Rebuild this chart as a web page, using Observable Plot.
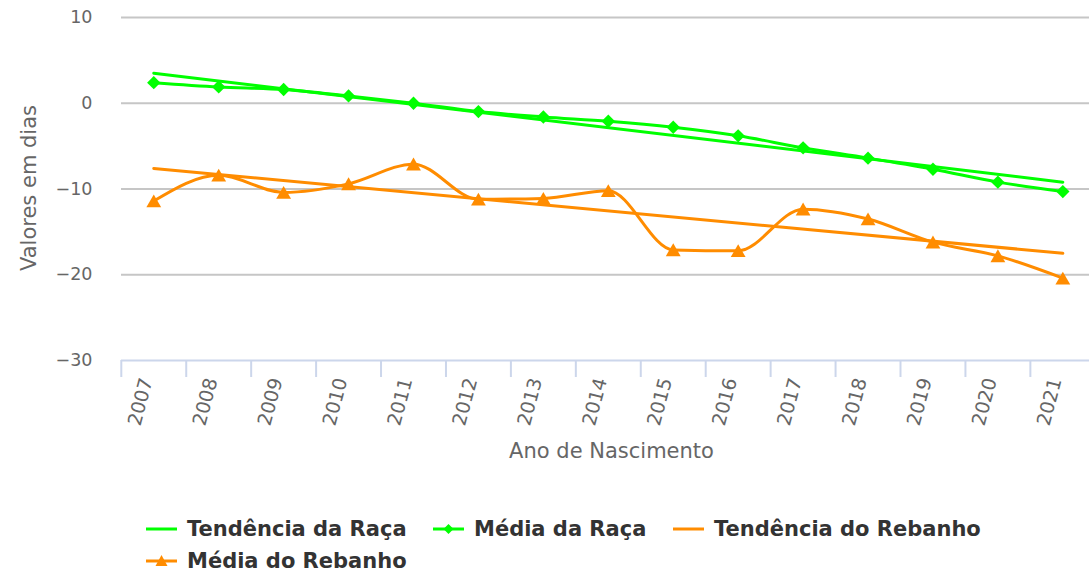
<!DOCTYPE html>
<html>
<head>
<meta charset="utf-8">
<script src="https://cdn.jsdelivr.net/npm/d3@7"></script>
<script src="https://cdn.jsdelivr.net/npm/@observablehq/plot@0.6"></script>
<style>
  html, body { margin: 0; padding: 0; background: #fff; }
  #wrap { position: relative; width: 1089px; height: 576px; overflow: hidden; font-family: "DejaVu Sans", sans-serif; }
  #chart { position: absolute; left: 0; top: 0; }
  .leg { position: absolute; display: flex; align-items: center; font-weight: bold; font-size: 21px; color: #333; white-space: nowrap; }
  .leg svg { margin-right: 10px; }
</style>
</head>
<body>
<div id="wrap">
  <div id="chart"></div>
  <div id="legend"></div>
</div>
<script>
// ---- data ----
const years = [2007, 2008, 2009, 2010, 2011, 2012, 2013, 2014, 2015, 2016, 2017, 2018, 2019, 2020, 2021];
const mediaRaca = [2.4, 1.9, 1.6, 0.85, 0, -0.97, -1.6, -2.1, -2.8, -3.8, -5.2, -6.4, -7.7, -9.2, -10.3];
const mediaRebanho = [-11.4, -8.4, -10.4, -9.4, -7.1, -11.2, -11.1, -10.2, -17.1, -17.2, -12.35, -13.5, -16.2, -17.8, -20.4];
const trendYears = [2007, 2021];
const tendenciaRaca = [3.5, -9.2];
const tendenciaRebanho = [-7.6, -17.5];
const yTicks = [-30, -20, -10, 0, 10];
const seriesNames = ["Tendência da Raça", "Média da Raça", "Tendência do Rebanho", "Média do Rebanho"];
const xTitle = "Ano de Nascimento";
const yTitle = "Valores em dias";

const GREEN = "#00ff00";
const ORANGE = "#ff8c00";

const racaRows = years.map((year, i) => ({year, value: mediaRaca[i]}));
const rebanhoRows = years.map((year, i) => ({year, value: mediaRebanho[i]}));
const tRacaRows = trendYears.map((year, i) => ({year, value: tendenciaRaca[i]}));
const tRebanhoRows = trendYears.map((year, i) => ({year, value: tendenciaRebanho[i]}));
const boundaries = years.map(y => y - 0.5).concat([years[years.length - 1] + 0.5]);

const chart = Plot.plot({
  width: 1089,
  height: 480,
  marginLeft: 121,
  marginRight: 0,
  marginTop: 17,
  marginBottom: 120,
  style: {fontFamily: "DejaVu Sans", background: "transparent"},
  x: {domain: [years[0] - 0.5, years[years.length - 1] + 0.5], range: [120.8, 1094.8]},
  y: {domain: [-30, 10], range: [360, 17]},
  marks: [
    Plot.ruleY(yTicks.filter(t => t > -30), {stroke: "#c6c6c6", strokeWidth: 2}),
    Plot.ruleY([-30], {stroke: "#ccd6eb", strokeWidth: 2}),
    Plot.ruleX(boundaries, {y1: -30, y2: -30, insetBottom: -17, stroke: "#ccd6eb", strokeWidth: 2}),
    Plot.axisY(yTicks, {tickSize: 0, tickPadding: 29, fontSize: 17.5, fill: "#666", label: null}),
    Plot.axisX(years, {tickSize: 0, tickPadding: 18, tickRotate: -75, dx: -7, fontSize: 19, fill: "#666", label: null, tickFormat: d => String(d)}),
    Plot.text([yTitle], {frameAnchor: "left", textAnchor: "middle", lineAnchor: "middle", rotate: -90, dx: -92, dy: -1, fontSize: 21, fill: "#666"}),
    Plot.text([xTitle], {frameAnchor: "bottom", textAnchor: "middle", lineAnchor: "middle", dx: 6, dy: 91, fontSize: 21, fill: "#666"}),
    Plot.line(tRacaRows, {x: "year", y: "value", stroke: GREEN, strokeWidth: 3}),
    Plot.line(racaRows, {x: "year", y: "value", stroke: GREEN, strokeWidth: 3, curve: "monotone-x"}),
    Plot.dot(racaRows, {x: "year", y: "value", symbol: "diamond2", r: 6, fill: GREEN, stroke: "none"}),
    Plot.line(tRebanhoRows, {x: "year", y: "value", stroke: ORANGE, strokeWidth: 3}),
    Plot.line(rebanhoRows, {x: "year", y: "value", stroke: ORANGE, strokeWidth: 3, curve: "monotone-x"}),
    Plot.dot(rebanhoRows, {x: "year", y: "value", symbol: "triangle", r: 5.5, dy: 2, fill: ORANGE, stroke: "none"})
  ]
});
document.getElementById("chart").appendChild(chart);

// ---- legend ----
const legendItems = [
  {name: seriesNames[0], color: GREEN, marker: null, left: 146, top: 529},
  {name: seriesNames[1], color: GREEN, marker: "diamond", left: 433, top: 529},
  {name: seriesNames[2], color: ORANGE, marker: null, left: 673, top: 529},
  {name: seriesNames[3], color: ORANGE, marker: "triangle", left: 146, top: 561}
];
const legend = document.getElementById("legend");
for (const it of legendItems) {
  const div = document.createElement("div");
  div.className = "leg";
  div.style.left = it.left + "px";
  div.style.top = (it.top - 13) + "px";
  div.style.height = "26px";
  let m = "";
  if (it.marker === "diamond") m = `<path d="M15.5,8 L20.5,13 L15.5,18 L10.5,13 Z" fill="${it.color}"/>`;
  if (it.marker === "triangle") m = `<path d="M15.5,7 L21.5,18 L9.5,18 Z" fill="${it.color}"/>`;
  div.innerHTML = `<svg width="31" height="26"><line x1="0" x2="31" y1="13" y2="13" stroke="${it.color}" stroke-width="3"/>${m}</svg><span>${it.name}</span>`;
  legend.appendChild(div);
}
</script>
</body>
</html>
